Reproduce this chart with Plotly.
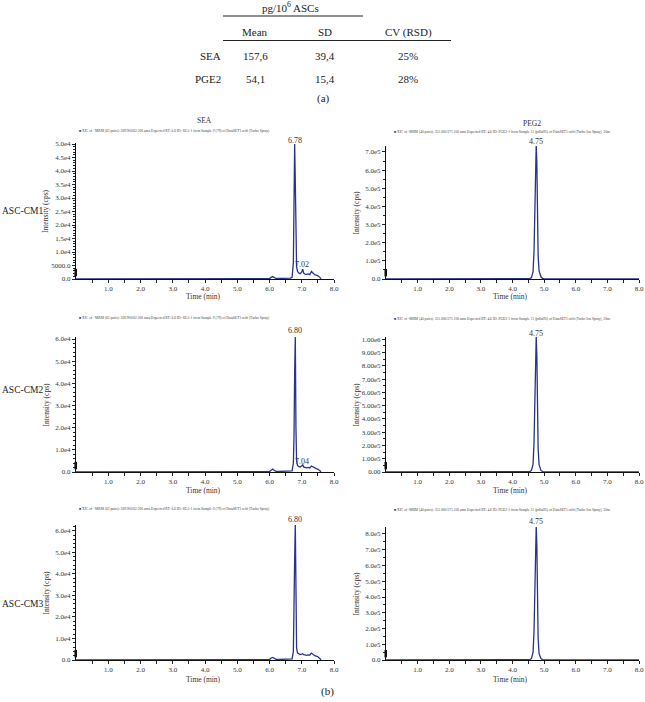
import plotly.graph_objects as go

W, H = 645, 702
FONT = "Liberation Serif"
NAVY = "#27348b"

# ---------------- (a) table data ----------------
table_header = "pg/10<sup>6</sup> ASCs"
table_cols = ["Mean", "SD", "CV (RSD)"]
table_rows = ["SEA", "PGE2"]
table_mean = ["157,6", "54,1"]
table_sd = ["39,4", "15,4"]
table_cv = ["25%", "28%"]

# ---------------- (b) chromatogram data ----------------
row_labels = ["ASC-CM1", "ASC-CM2", "ASC-CM3"]
col_titles = ["SEA", "PEG2"]

sea_time = [0.0, 1.0, 2.0, 3.0, 4.0, 5.0, 5.9, 6.0, 6.05, 6.1, 6.15, 6.2, 6.3, 6.5,
            6.65, 6.7, 6.74, 6.76, 6.78, 6.8, 6.82, 6.84, 6.87, 6.9, 6.95, 7.0, 7.03,
            7.06, 7.1, 7.15, 7.2, 7.25, 7.3, 7.35, 7.4, 7.45, 7.5, 7.55, 7.6]
sea_cm1 = [50, 50, 50, 50, 60, 60, 80, 150, 600, 900, 500, 250, 200, 250, 300, 600,
           6000, 28000, 50000, 36000, 12000, 4500, 2800, 2300, 2000, 2600, 3600, 2200,
           1800, 1700, 1900, 1600, 2800, 2100, 1600, 1400, 1200, 700, 100]
sea_cm2 = [50, 50, 50, 50, 60, 60, 80, 200, 800, 1300, 700, 300, 250, 250, 300, 500,
           4000, 16000, 45000, 61000, 20000, 5000, 3000, 2500, 2200, 2600, 3200, 2300,
           2000, 1900, 2100, 1800, 2700, 2200, 1700, 1500, 1300, 700, 100]
sea_cm3 = [50, 50, 50, 50, 60, 60, 80, 200, 900, 1200, 800, 300, 250, 250, 300, 500,
           4000, 18000, 47000, 63000, 22000, 5500, 3200, 2800, 2500, 2700, 2900, 2500,
           2300, 2200, 2400, 2300, 3200, 2400, 2000, 1800, 1500, 800, 100]

pge_time = [0.0, 1.0, 2.0, 3.0, 4.0, 4.4, 4.55, 4.6, 4.65, 4.68, 4.71, 4.73, 4.75,
            4.77, 4.79, 4.81, 4.84, 4.87, 4.9, 4.95, 5.0, 5.5, 6.0, 7.0, 8.0]
pge_cm1 = [0, 0, 0, 0, 0, 200, 2000, 8000, 40000, 150000, 420000, 650000, 740000,
           640000, 380000, 130000, 45000, 32000, 12000, 3000, 800, 200, 0, 0, 0]
pge_cm2 = [0, 0, 0, 0, 0, 300, 3000, 12000, 60000, 220000, 600000, 900000, 1020000,
           880000, 520000, 180000, 55000, 30000, 12000, 3000, 800, 200, 0, 0, 0]
pge_cm3 = [0, 0, 0, 0, 0, 300, 2500, 10000, 50000, 180000, 500000, 760000, 850000,
           730000, 420000, 140000, 40000, 22000, 9000, 2500, 700, 200, 0, 0, 0]

peak_labels = [[(6.78, "6.78"), (4.75, "4.75")],
               [(6.80, "6.80"), (4.75, "4.75")],
               [(6.80, "6.80"), (4.75, "4.75")]]
minor_peaks = [("7.02", 7.02), ("7.04", 7.02)]

x_tickvals = [1, 2, 3, 4, 5, 6, 7, 8]
x_ticktext = ["1.0", "2.0", "3.0", "4.0", "5.0", "6.0", "7.0", "8.0"]

y_ticks = [
    [([0, 5000, 10000, 15000, 20000, 25000, 30000, 35000, 40000, 45000, 50000],
      ["0.0", "5000.0", "1.0e4", "1.5e4", "2.0e4", "2.5e4", "3.0e4", "3.5e4", "4.0e4", "4.5e4", "5.0e4"]),
     ([0, 1e5, 2e5, 3e5, 4e5, 5e5, 6e5, 7e5],
      ["0.0", "1.0e5", "2.0e5", "3.0e5", "4.0e5", "5.0e5", "6.0e5", "7.0e5"])],
    [([0, 1e4, 2e4, 3e4, 4e4, 5e4, 6e4],
      ["0.0", "1.0e4", "2.0e4", "3.0e4", "4.0e4", "5.0e4", "6.0e4"]),
     ([0, 1e5, 2e5, 3e5, 4e5, 5e5, 6e5, 7e5, 8e5, 9e5, 1e6],
      ["0.00", "1.00e5", "2.00e5", "3.00e5", "4.00e5", "5.00e5", "6.00e5", "7.00e5", "8.00e5", "9.00e5", "1.00e6"])],
    [([0, 1e4, 2e4, 3e4, 4e4, 5e4, 6e4],
      ["0.0", "1.0e4", "2.0e4", "3.0e4", "4.0e4", "5.0e4", "6.0e4"]),
     ([0, 1e5, 2e5, 3e5, 4e5, 5e5, 6e5, 7e5, 8e5],
      ["0.0", "1.0e5", "2.0e5", "3.0e5", "4.0e5", "5.0e5", "6.0e5", "7.0e5", "8.0e5"])],
]

legend_texts = [
    "XIC of +MRM (62 pairs): 509.900/62.200 amu Expected RT: 6.6 ID: SEA-1 from Sample 9 (79) of DataSET1.wiff (Turbo Spray)",
    "XIC of -MRM (40 pairs): 351.000/271.100 amu Expected RT: 4.6 ID: PGE2-1 from Sample 11 (pdlat95) of DataSET1.wiff (Turbo Ion Spray), 30m",
]

series = [[(sea_time, sea_cm1), (pge_time, pge_cm1)],
          [(sea_time, sea_cm2), (pge_time, pge_cm2)],
          [(sea_time, sea_cm3), (pge_time, pge_cm3)]]

# ---------------- layout geometry (pixels) ----------------
COL_X = [(76, 334), (386, 639)]
ROW_Y = [[(143, 279), (146, 279)],
         [(337, 472), (337, 472)],
         [(525, 660), (527, 660)]]
Y_MAX = [[50370, 733000], [60900, 1017000], [62650, 844400]]
Y_MINOR = [[1000, 50000], [2000, 50000], [2000, 50000]]
LEGEND_Y = [[131, 132], [318, 319], [509, 510]]
PEAK_Y = [[141, 141.7], [330.7, 333.7], [519, 521.7]]
MINOR_PEAK_Y = [264, 461.7]
TIME_Y = [296.5, 490.5, 679.5]
ROWLAB_Y = [211, 390, 604]


def fx(p):
    return p / W


def fy(p):
    return 1 - p / H


def aid(k):
    return "" if k == 1 else str(k)


def ann(text, x, y, size, xanchor="center", xref="paper", color="#333", **kw):
    return dict(text=text, x=x, y=y, xref=xref, yref="paper", showarrow=False,
                xanchor=xanchor, yanchor="middle",
                font=dict(family=FONT, size=size, color=color), **kw)


fig = go.Figure()
annotations = []
shapes = []
layout = {}

for r in range(3):
    for c in range(2):
        k = r * 2 + c + 1
        s = aid(k)
        xs, ys = series[r][c]
        fig.add_trace(go.Scatter(x=xs, y=ys, mode="lines",
                                 line=dict(color=NAVY, width=1.3),
                                 xaxis=f"x{s}", yaxis=f"y{s}",
                                 showlegend=False, hoverinfo="x+y"))
        x0, x1 = COL_X[c]
        top, bot = ROW_Y[r][c]
        tv, tt = y_ticks[r][c]
        layout[f"xaxis{s}"] = dict(
            domain=[fx(x0), fx(x1)], anchor=f"y{s}", range=[0, 8], automargin=False,
            tickvals=x_tickvals, ticktext=x_ticktext,
            ticks="outside", ticklen=3, tickwidth=1, tickcolor="#222",
            minor=dict(tickvals=[0.5, 1.5, 2.5, 3.5, 4.5, 5.5, 6.5, 7.5],
                       ticks="outside", ticklen=3, tickcolor="#222"),
            showline=True, linecolor="#111", linewidth=1,
            showgrid=False, zeroline=False,
            tickfont=dict(family=FONT, size=7, color="#333"),
        )
        layout[f"yaxis{s}"] = dict(
            domain=[fy(bot), fy(top)], anchor=f"x{s}", range=[0, Y_MAX[r][c]], automargin=False,
            tickvals=tv, ticktext=tt,
            ticks="outside", ticklen=3, tickwidth=1, tickcolor="#222",
            minor=dict(dtick=Y_MINOR[r][c], ticks="outside", ticklen=2, tickcolor="#222"),
            showline=True, linecolor="#111", linewidth=1,
            showgrid=False, zeroline=False,
            tickfont=dict(family=FONT, size=7, color="#333"),
        )
        annotations.append(ann("Intensity (cps)", fx(x0 - 30), fy((top + bot) / 2), 7.5, textangle=-90))
        annotations.append(ann("Time (min)", fx((x0 + x1) / 2 - 2), fy(TIME_Y[r]), 7.5))
        annotations.append(ann("<span style='color:%s'>■</span> %s" % (NAVY, legend_texts[c]),
                               fx(x0 + 1 + (5 if c == 1 else 0)), fy(LEGEND_Y[r][c]), 3.6,
                               xanchor="left", color="#444"))
        px_, lab = peak_labels[r][c]
        annotations.append(ann(lab, px_, fy(PEAK_Y[r][c]), 8, xref=f"x{s}"))
        shapes.append(dict(type="rect", xref=f"x{s} domain", yref=f"y{s} domain",
                           x0=-0.006, x1=0.004, y0=0.02, y1=0.075,
                           fillcolor="#111", line=dict(width=0)))

for i, (lab, xv) in enumerate(minor_peaks):
    s = aid(i * 2 + 1)
    annotations.append(ann(lab, xv, fy(MINOR_PEAK_Y[i]), 8, xref=f"x{s}"))

annotations.append(ann(col_titles[0], fx(204), fy(120), 7.5))
annotations.append(ann(col_titles[1], fx(532), fy(124), 7.5))
for r in range(3):
    annotations.append(ann(row_labels[r], fx(0), fy(ROWLAB_Y[r]), 9.5, xanchor="left", color="#222"))

# ---------------- table (a) ----------------
annotations.append(ann(table_header, fx(290), fy(7), 11, color="#222"))
shapes.append(dict(type="line", xref="paper", yref="paper", x0=fx(223), x1=fx(363),
                   y0=fy(16), y1=fy(16), line=dict(color="#222", width=1)))
COLS_PX = [255, 325, 408]
for j, name in enumerate(table_cols):
    annotations.append(ann(name, fx(COLS_PX[j]), fy(32), 11, color="#222"))
shapes.append(dict(type="line", xref="paper", yref="paper", x0=fx(223), x1=fx(451),
                   y0=fy(40.5), y1=fy(40.5), line=dict(color="#222", width=1)))
ROWS_PX = [56, 79]
for i, name in enumerate(table_rows):
    annotations.append(ann(name, fx(223), fy(ROWS_PX[i]), 11, xanchor="right", color="#222"))
    for j, vals in enumerate([table_mean, table_sd, table_cv]):
        annotations.append(ann(vals[i], fx(COLS_PX[j]), fy(ROWS_PX[i]), 11, color="#222"))
annotations.append(ann("(a)", fx(323), fy(99), 11, color="#222"))
annotations.append(ann("(b)", fx(327), fy(691), 11, color="#222"))

fig.update_layout(
    width=W, height=H, margin=dict(l=0, r=0, t=0, b=0, autoexpand=False),
    paper_bgcolor="white", plot_bgcolor="white",
    annotations=annotations, shapes=shapes, showlegend=False,
    font=dict(family=FONT),
    **layout,
)

fig.write_html("out.html", config={"displayModeBar": False},
               post_script="document.body.style.margin='0px';")
